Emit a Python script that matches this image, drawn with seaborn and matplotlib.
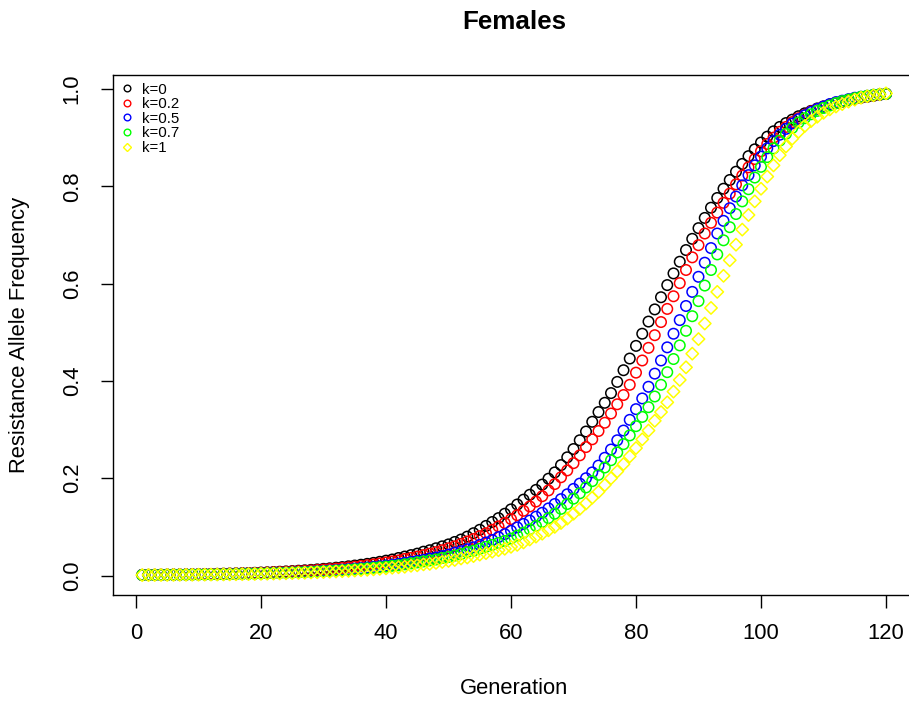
import matplotlib
matplotlib.use("Agg")
import matplotlib.pyplot as plt
from matplotlib.lines import Line2D
import numpy as np
import pandas as pd
import seaborn as sns

# Generations simulated
generation = list(range(1, 121))

# Resistance allele frequency in females for each value of k
freq_k0 = [
    .0013, .0014, .0015, .0017, .0018, .0020, .0021, .0023, .0025, .0027,
    .0029, .0032, .0035, .0038, .0041, .0044, .0048, .0052, .0056, .0061,
    .0066, .0072, .0078, .0084, .0091, .0099, .0107, .0116, .0126, .0137,
    .0148, .0161, .0174, .0189, .0205, .0222, .0240, .0260, .0282, .0306,
    .033, .036, .039, .042, .045, .049, .052, .056, .060, .064,
    .069, .074, .080, .087, .094, .102, .110, .118, .127, .136,
    .146, .156, .166, .176, .187, .199, .212, .227, .243, .260,
    .278, .296, .316, .336, .355, .375, .398, .422, .446, .472,
    .497, .522, .547, .572, .597, .621, .645, .669, .692, .714,
    .735, .756, .776, .795, .813, .830, .846, .862, .876, .890,
    .902, .913, .922, .930, .937, .944, .950, .955, .960, .964,
    .968, .971, .974, .977, .980, .982, .984, .986, .988, .990]

freq_k02 = [
    .0012, .0013, .0014, .0015, .0017, .0018, .0020, .0021, .0023, .0025,
    .0027, .0029, .0032, .0034, .0037, .0040, .0044, .0047, .0051, .0055,
    .0060, .0065, .0070, .0076, .0082, .0089, .0096, .0104, .0113, .0122,
    .0132, .0143, .0155, .0167, .0181, .0196, .0212, .0229, .0248, .0268,
    .029, .031, .034, .036, .039, .042, .045, .048, .052, .056,
    .060, .065, .070, .075, .081, .087, .094, .101, .108, .116,
    .124, .133, .142, .152, .163, .175, .188, .202, .216, .231,
    .247, .264, .280, .297, .314, .333, .352, .371, .392, .417,
    .442, .468, .494, .521, .548, .574, .601, .628, .654, .679,
    .703, .725, .746, .766, .785, .804, .822, .839, .856, .872,
    .887, .900, .912, .922, .932, .940, .947, .954, .959, .964,
    .968, .972, .975, .978, .981, .983, .985, .987, .989, .990]

freq_k05 = [
    .0011, .0012, .0013, .0014, .0015, .0016, .0017, .0018, .0020, .0021,
    .0023, .0025, .0027, .0029, .0031, .0034, .0036, .0039, .0042, .0045,
    .0049, .0053, .0057, .0061, .0066, .0071, .0077, .0083, .0089, .0096,
    .0104, .0112, .0121, .0130, .0140, .0151, .0163, .0176, .0190, .0205,
    .022, .024, .026, .028, .030, .032, .035, .037, .040, .043,
    .047, .050, .054, .058, .063, .068, .073, .079, .085, .092,
    .099, .106, .113, .121, .129, .138, .147, .157, .167, .178,
    .189, .200, .212, .226, .242, .259, .278, .298, .320, .342,
    .364, .388, .415, .442, .469, .497, .525, .554, .583, .614,
    .643, .673, .703, .729, .755, .779, .802, .823, .843, .861,
    .878, .893, .906, .918, .929, .938, .946, .953, .959, .964,
    .969, .973, .976, .979, .982, .984, .986, .988, .989, .990]

freq_k07 = [
    .0010, .0011, .0012, .0013, .0014, .0015, .0016, .0017, .0018, .0019,
    .0021, .0022, .0024, .0026, .0028, .0030, .0033, .0035, .0038, .0041,
    .0044, .0048, .0051, .0055, .0060, .0065, .0070, .0075, .0081, .0087,
    .0094, .0101, .0109, .0118, .0127, .0137, .0147, .0159, .0171, .0184,
    .020, .021, .023, .025, .027, .029, .031, .033, .036, .038,
    .041, .044, .048, .051, .055, .059, .063, .067, .071, .076,
    .082, .088, .095, .102, .110, .118, .127, .137, .147, .158,
    .169, .181, .194, .207, .222, .237, .253, .270, .288, .307,
    .326, .346, .368, .392, .418, .445, .473, .503, .533, .564,
    .596, .628, .660, .689, .716, .743, .769, .794, .818, .840,
    .860, .878, .894, .908, .920, .931, .940, .948, .955, .961,
    .966, .971, .975, .978, .981, .984, .986, .988, .989, .990]

freq_k1 = [
    .0009, .0010, .0011, .0011, .0012, .0013, .0014, .0015, .0016, .0017,
    .0018, .0020, .0021, .0023, .0024, .0026, .0028, .0030, .0032, .0035,
    .0037, .0040, .0043, .0046, .0050, .0053, .0057, .0062, .0066, .0071,
    .0077, .0082, .0089, .0095, .0102, .0110, .0118, .0127, .0137, .0147,
    .016, .017, .018, .020, .021, .023, .024, .026, .028, .030,
    .032, .035, .037, .040, .043, .046, .049, .052, .055, .059,
    .063, .068, .074, .080, .086, .093, .100, .108, .117, .127,
    .137, .148, .160, .172, .186, .200, .214, .229, .245, .262,
    .280, .298, .318, .336, .356, .378, .402, .428, .456, .486,
    .518, .550, .583, .616, .648, .680, .711, .741, .769, .795,
    .820, .843, .864, .882, .898, .912, .924, .934, .943, .951,
    .958, .964, .969, .974, .978, .982, .985, .987, .989, .991]

k_labels = ["k=0", "k=0.2", "k=0.5", "k=0.7", "k=1"]
x_ticks = [0, 20, 40, 60, 80, 100, 120]
y_ticks = [0.0, 0.2, 0.4, 0.6, 0.8, 1.0]

series = [freq_k0, freq_k02, freq_k05, freq_k07, freq_k1]
colors = ["#000000", "#FF0000", "#0000FF", "#00FF00", "#FFFF00"]
markers = ["o", "o", "o", "o", "D"]

sns.set_style("white")
plt.rcParams["font.family"] = ["Liberation Sans", "DejaVu Sans"]
plt.rcParams["text.color"] = "black"

W, H = 909, 705
fig = plt.figure(figsize=(W / 100, H / 100), dpi=100)
ax = fig.add_axes([112.5 / W, 1 - 594.8 / H, 803.25 / W, 520.2 / H])

for vals, lab, col, mk in zip(series, k_labels, colors, markers):
    df = pd.DataFrame({"Generation": generation, "Frequency": vals})
    sns.scatterplot(data=df, x="Generation", y="Frequency", ax=ax,
                    marker=mk, s=57 if mk == "o" else 40,
                    color=col, facecolor="none", edgecolor=col,
                    linewidth=1.1, legend=False, zorder=3)

ax.set_xlim(-3.76, 124.76)
ax.set_ylim(-0.0396, 1.0296)
ax.set_xticks(x_ticks)
ax.set_xticklabels([str(t) for t in x_ticks])
ax.set_yticks(y_ticks)
ax.set_yticklabels([f"{t:.1f}" for t in y_ticks], rotation=90, va="center")
ax.set_xlabel("")
ax.set_ylabel("")

for sp in ax.spines.values():
    sp.set_visible(True)
    sp.set_color("black")
    sp.set_linewidth(1.0)
ax.tick_params(axis="both", which="major", direction="out", length=9,
               width=1.0, color="black", labelsize=15.8, labelcolor="black",
               bottom=True, left=True, top=False, right=False)
ax.tick_params(axis="x", pad=11)
ax.tick_params(axis="y", pad=12.5)
ax.grid(False)

fig.text(514 / W, 1 - 689 / H, "Generation", ha="center", va="center",
         fontsize=15.8, color="black")
fig.text(20 / W, 1 - 335 / H, "Resistance Allele Frequency", ha="center",
         va="center", rotation=90, fontsize=15.8, color="black")
fig.text(514 / W, 1 - 22 / H, "Females", ha="center", va="center",
         fontsize=18.7, fontweight="bold", color="black")

handles = [
    Line2D([], [], ls="none", marker=mk, mfc="none", mec=col, mew=1.0,
           ms=4.8 if mk == "o" else 3.9)
    for col, mk in zip(colors, markers)
]
leg = ax.legend(handles, k_labels, loc="upper left",
                bbox_to_anchor=(119.8 / W, 1 - 82.5 / H),
                bbox_transform=fig.transFigure,
                frameon=False, fontsize=10.8, handlelength=1.0,
                handletextpad=0.5, labelspacing=0.04, borderpad=0,
                borderaxespad=0)
for t in leg.get_texts():
    t.set_color("black")

fig.savefig("out.png", dpi=100)
